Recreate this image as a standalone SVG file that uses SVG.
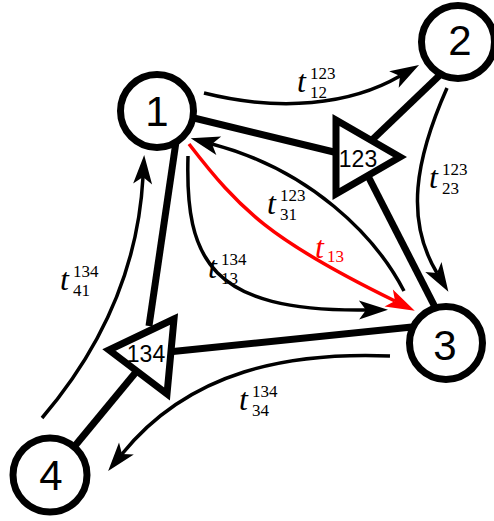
<svg xmlns="http://www.w3.org/2000/svg" width="494" height="521" viewBox="0 0 494 521">
<style>
.thick{stroke:#000;stroke-width:7;fill:none}
.thin{stroke:#000;stroke-width:3.5;fill:none;marker-end:url(#ah)}
.red{stroke:#f00;stroke-width:3.5;fill:none;marker-end:url(#ahr)}
.node{fill:#fff;stroke:#000;stroke-width:7}
.tri{fill:#fff;stroke:#000;stroke-width:7;stroke-linejoin:miter;stroke-miterlimit:10}
.num{font-family:"Liberation Sans",Arial,sans-serif;font-size:42px;text-anchor:middle;fill:#000}
.tnum{font-family:"Liberation Sans",Arial,sans-serif;font-size:23px;text-anchor:middle;fill:#000}
.lbl{font-family:"Liberation Serif","Times New Roman",serif;fill:#000}
.lbl.rl{fill:#f00}
.t{font-style:italic;font-size:32px}
.s{font-size:17px}
</style>
<defs>
<marker id="ah" markerUnits="userSpaceOnUse" orient="auto" refX="0" refY="0" markerWidth="40" markerHeight="40" overflow="visible">
<path d="M22,0 L-7,-9.5 L0,0 L-7,9.5 Z" fill="#000"/>
</marker>
<marker id="ahr" markerUnits="userSpaceOnUse" orient="auto" refX="0" refY="0" markerWidth="40" markerHeight="40" overflow="visible">
<path d="M22,0 L-7,-9.5 L0,0 L-7,9.5 Z" fill="#f00"/>
</marker>
</defs>
<g id="connectors">
<line class="thick" x1="157" y1="109" x2="338" y2="153"/>
<line class="thick" x1="372" y1="140" x2="442" y2="73"/>
<line class="thick" x1="368" y1="176" x2="436" y2="309"/>
<line class="thick" x1="177" y1="135" x2="149" y2="326"/>
<line class="thick" x1="168" y1="352" x2="412" y2="327"/>
<line class="thick" x1="55" y1="470" x2="136" y2="372"/>
<path class="thin" d="M204,93 C280,112 350,105 400,76"/>
<path class="thin" d="M447,88 C415,160 405,220 437,273"/>
<path class="thin" d="M404,291 C375,235 310,170 212,144"/>
<path class="red" d="M189,144 C240,210 270,240 395,301"/>
<path class="thin" d="M188,156 C185,260 210,312 366,310"/>
<path class="thin" d="M390,356 C290,352 190,370 122,454"/>
<path class="thin" d="M42,418 C100,350 138,270 143,177"/>
<text class="lbl" id="label-t12" x="297" y="92"><tspan class="t">t</tspan><tspan class="s" x="310" y="79">123</tspan><tspan class="s" x="310" y="98">12</tspan></text>
<text class="lbl" id="label-t23" x="429" y="188"><tspan class="t">t</tspan><tspan class="s" x="442" y="175">123</tspan><tspan class="s" x="442" y="194">23</tspan></text>
<text class="lbl" id="label-t31" x="267" y="214"><tspan class="t">t</tspan><tspan class="s" x="280" y="201">123</tspan><tspan class="s" x="280" y="220">31</tspan></text>
<text class="lbl rl" id="label-t13" x="315" y="258"><tspan class="t">t</tspan><tspan class="s" x="327" y="262">13</tspan></text>
<text class="lbl" id="label-t13-134" x="208" y="278"><tspan class="t">t</tspan><tspan class="s" x="221" y="265">134</tspan><tspan class="s" x="221" y="284">13</tspan></text>
<text class="lbl" id="label-t41" x="60" y="290"><tspan class="t">t</tspan><tspan class="s" x="73" y="277">134</tspan><tspan class="s" x="73" y="296">41</tspan></text>
<text class="lbl" id="label-t34" x="239" y="410"><tspan class="t">t</tspan><tspan class="s" x="252" y="397">134</tspan><tspan class="s" x="252" y="416">34</tspan></text>
</g>
<g id="tri123"><polygon class="tri" points="336,120 400,157 336,194"/><text class="tnum" x="358" y="167">123</text></g>
<g id="tri134"><polygon class="tri" points="174,319 109,350 167,394"/><text class="tnum" x="146" y="362">134</text></g>
<g id="node1"><circle class="node" cx="157" cy="111" r="36.5"/><text class="num" x="157" y="126">1</text></g>
<g id="node2"><circle class="node" cx="458" cy="42" r="36.5"/><text class="num" x="460" y="55">2</text></g>
<g id="node3"><circle class="node" cx="446" cy="343" r="36.5"/><text class="num" x="445" y="360">3</text></g>
<g id="node4"><circle class="node" cx="50" cy="475" r="37"/><text class="num" x="51" y="490">4</text></g>
</svg>
